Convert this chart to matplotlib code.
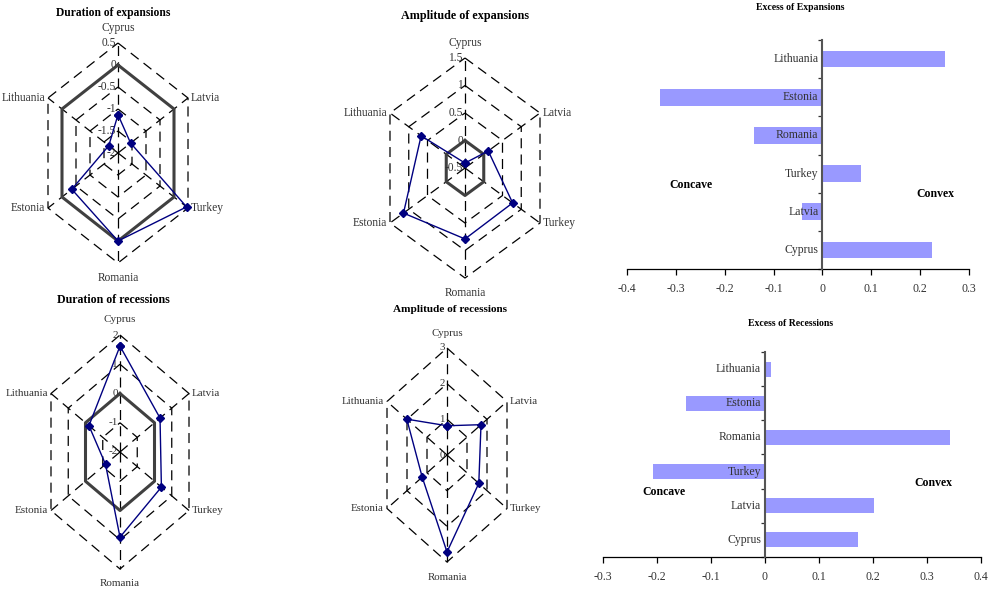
import numpy as np
import matplotlib
matplotlib.use("Agg")
import matplotlib.pyplot as plt

W, H = 991, 590
plt.rcParams['font.family'] = ['Liberation Serif', 'DejaVu Serif']

countries = ["Cyprus", "Latvia", "Turkey", "Romania", "Estonia", "Lithuania"]
dur_exp = [-1.13, -1.55, 0.45, 0.0, -0.35, -1.67]
amp_exp = [-0.41, 0.12, 0.77, 0.79, 1.14, 0.67]
dur_rec = [1.62, 0.32, 0.40, 0.91, -1.16, -0.20]
amp_rec = [0.82, 1.70, 1.59, 2.72, 1.24, 2.01]

dur_exp_ticks = [-2, -1.5, -1, -0.5, 0, 0.5]
amp_exp_ticks = [-0.5, 0, 0.5, 1, 1.5]
dur_rec_ticks = [-2, -1, 0, 1, 2]
amp_rec_ticks = [0, 1, 2, 3]

bar_countries = ["Cyprus", "Latvia", "Turkey", "Romania", "Estonia", "Lithuania"]
excess_exp = [0.224, -0.042, 0.078, -0.140, -0.332, 0.251]
excess_rec = [0.173, 0.201, -0.207, 0.342, -0.146, 0.011]
exp_xticks = [-0.4, -0.3, -0.2, -0.1, 0, 0.1, 0.2, 0.3]
rec_xticks = [-0.3, -0.2, -0.1, 0, 0.1, 0.2, 0.3, 0.4]

fig = plt.figure(figsize=(W / 100, H / 100), dpi=100)

NAVY = '#000080'
DASH = (0, (8, 5))


def radar(cx, cy, hw, R, values, ticks, title, tx, ty, fs, tfs):
    ax = fig.add_axes([(cx - hw / 0.866) / W, (H - cy - R) / H,
                       2 * hw / 0.866 / W, 2 * R / H])
    ax.set_xlim(-1, 1)
    ax.set_ylim(-1, 1)
    ax.axis('off')
    ang = np.deg2rad(np.arange(6) * 60)
    angc = np.append(ang, ang[0])
    vmin, vmax = ticks[0], ticks[-1]
    for t in ticks[1:]:
        r = (t - vmin) / (vmax - vmin)
        if t == 0:
            ax.plot(r * np.sin(angc), r * np.cos(angc), color='#404040', lw=2.2,
                    clip_on=False, zorder=2)
        else:
            ax.plot(r * np.sin(angc), r * np.cos(angc), color='black', lw=0.9,
                    linestyle=DASH, clip_on=False, zorder=1)
    for a in ang:
        ax.plot([0, np.sin(a)], [0, np.cos(a)], color='black', lw=0.9,
                linestyle=DASH, clip_on=False, zorder=1)
    rv = (np.array(values) - vmin) / (vmax - vmin)
    rv = np.append(rv, rv[0])
    ax.plot(rv * np.sin(angc), rv * np.cos(angc), color=NAVY, lw=1,
            marker='D', ms=4.3, clip_on=False, zorder=4)
    for t in ticks:
        r = (t - vmin) / (vmax - vmin)
        ax.annotate(f"{t:g}", (0, r), xytext=(-2, 0), textcoords='offset pixels',
                    ha='right', va='center', fontsize=fs, color='#333333', zorder=3)
    for name, a in zip(countries, ang):
        x, y = np.sin(a), np.cos(a)
        if abs(x) < 1e-6:
            off = (0, 15) if y > 0 else (0, -15)
            ha = 'center'
        elif x > 0:
            off = (3, 0)
            ha = 'left'
        else:
            off = (-3, 0)
            ha = 'right'
        ax.annotate(name, (x, y), xytext=off, textcoords='offset pixels',
                    ha=ha, va='center', fontsize=fs, color='#333333')
    fig.text(tx / W, 1 - ty / H, title, ha='center', va='center',
             fontsize=tfs, fontweight='bold')


radar(118, 153, 70, 110, dur_exp, dur_exp_ticks, "Duration of expansions", 113, 13, 8.3, 8.3)
radar(465, 168, 75, 110, amp_exp, amp_exp_ticks, "Amplitude of expansions", 465, 16, 8.3, 8.7)
radar(120, 452, 69, 117, dur_rec, dur_rec_ticks, "Duration of recessions", 113, 300, 8.0, 8.6)
radar(447, 455, 60, 107, amp_rec, amp_rec_ticks, "Amplitude of recessions", 450, 309, 7.8, 8.1)


def bars(x0, x1, ytop, ybot, vals, xticks, title, tx, ty, cc, cv):
    ax = fig.add_axes([x0 / W, (H - ybot) / H, (x1 - x0) / W, (ybot - ytop) / H])
    ypos = np.arange(len(bar_countries))
    ax.barh(ypos, vals, height=0.44, color='#9999FF', zorder=1)
    ax.set_xlim(xticks[0], xticks[-1])
    ax.set_ylim(-0.5, len(bar_countries) - 0.5)
    ax.set_xticks(xticks)
    ax.set_xticklabels([f"{t:g}" for t in xticks], fontsize=8.5, color='#333333')
    ax.tick_params(axis='x', direction='out', length=4, width=0.9, pad=6)
    for s in ['top', 'right']:
        ax.spines[s].set_visible(False)
    ax.spines['left'].set_position(('data', 0))
    ax.spines['left'].set_color('#555555')
    ax.spines['left'].set_linewidth(1.5)
    ax.spines['left'].set_zorder(3)
    ax.spines['bottom'].set_linewidth(0.9)
    ax.set_yticks(np.arange(len(bar_countries) + 1) - 0.5)
    ax.set_yticklabels([])
    ax.tick_params(axis='y', direction='out', length=3, width=0.9, color='#333333')
    for i, name in enumerate(bar_countries):
        ax.annotate(name, (0, i), xytext=(-4, 0), textcoords='offset pixels',
                    ha='right', va='center', fontsize=8.5, color='#333333', zorder=4)
    fig.text(tx / W, 1 - ty / H, title, ha='center', va='center',
             fontsize=7, fontweight='bold')
    fig.text(cc[0] / W, 1 - cc[1] / H, "Concave", ha='center', va='center',
             fontsize=8.5, fontweight='bold')
    fig.text(cv[0] / W, 1 - cv[1] / H, "Convex", ha='center', va='center',
             fontsize=8.5, fontweight='bold')


bars(627, 969, 40, 269, excess_exp, exp_xticks, "Excess of Expansions", 800, 8,
     (691, 185), (935, 194))
bars(603, 981, 352, 557, excess_rec, rec_xticks, "Excess of Recessions", 791, 324,
     (664, 492), (933, 483))

fig.savefig("out.png", dpi=100)
